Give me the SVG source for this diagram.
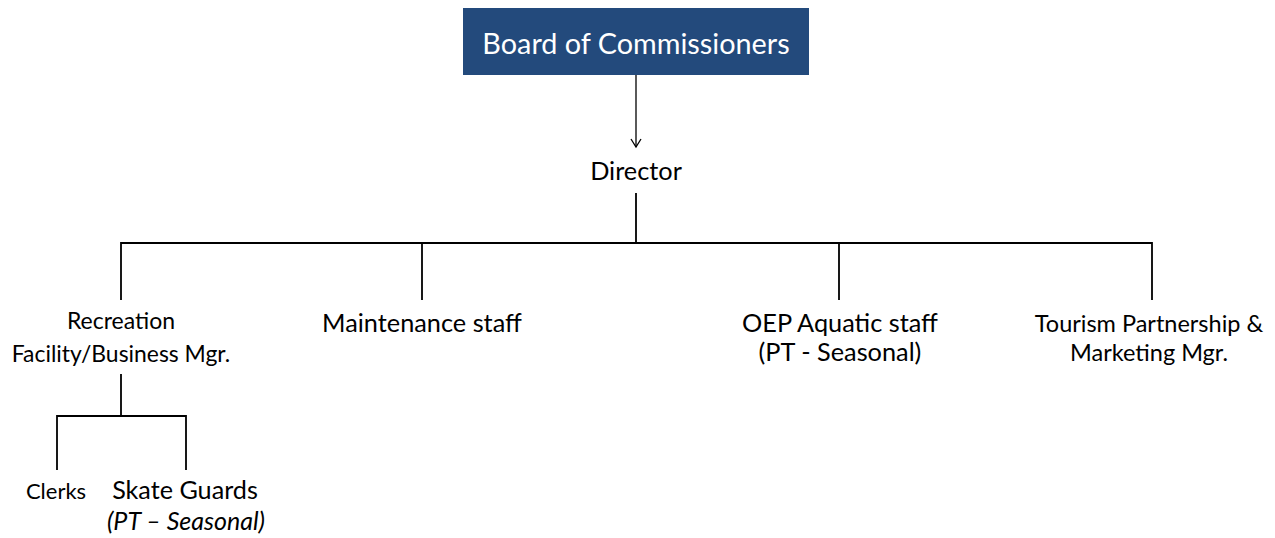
<svg xmlns="http://www.w3.org/2000/svg" width="1275" height="538" viewBox="0 0 1275 538">
<defs>
<style>
.t{font-family:Lato,"Liberation Sans",sans-serif;fill:#000;text-anchor:middle}
.c{stroke:#000;stroke-width:1.8;fill:none}
</style>
<marker id="arr" markerWidth="12" markerHeight="12" refX="10" refY="6" orient="auto" markerUnits="userSpaceOnUse" viewBox="0 0 12 12">
<path d="M2,1 L10,6 L2,11" fill="none" stroke="#000" stroke-width="1.3"/>
</marker>
</defs>
<rect width="1275" height="538" fill="#fff"/>
<g id="connectors">
<line x1="636" y1="75" x2="636" y2="147" stroke="#000" stroke-width="1.3" marker-end="url(#arr)"/>
<path class="c" d="M636,193 V243 M121,243 H1152 M121,242 V300 M422,242 V300 M839,242 V300 M1152,242 V300"/>
<path class="c" d="M121,374 V416 M57,416 H186 M57,415 V470 M186,415 V470"/>
</g>
<g id="board">
<rect x="463" y="8" width="346" height="67" fill="#234a7c"/>
<text class="t" x="636" y="54" font-size="28.8" style="fill:#fff">Board of Commissioners</text>
</g>
<g id="director"><text class="t" x="636" y="180" font-size="25.3">Director</text></g>
<g id="recreation">
<text class="t" x="121" y="329" font-size="23">Recreation</text>
<text class="t" x="121" y="362" font-size="22.9">Facility/Business Mgr.</text>
</g>
<g id="maintenance"><text class="t" x="422" y="332" font-size="25.3">Maintenance staff</text></g>
<g id="oep">
<text class="t" x="840" y="332" font-size="25.3">OEP Aquatic staff</text>
<text class="t" x="840" y="361" font-size="25.3">(PT - Seasonal)</text>
</g>
<g id="tourism">
<text class="t" x="1149" y="332" font-size="23.5">Tourism Partnership &amp;</text>
<text class="t" x="1149" y="361" font-size="23.5">Marketing Mgr.</text>
</g>
<g id="clerks"><text class="t" x="56" y="499" font-size="22">Clerks</text></g>
<g id="skate">
<text class="t" x="185" y="499" font-size="25.2">Skate Guards</text>
<text class="t" x="186" y="530" font-size="25" font-style="italic">(PT – Seasonal)</text>
</g>
</svg>
